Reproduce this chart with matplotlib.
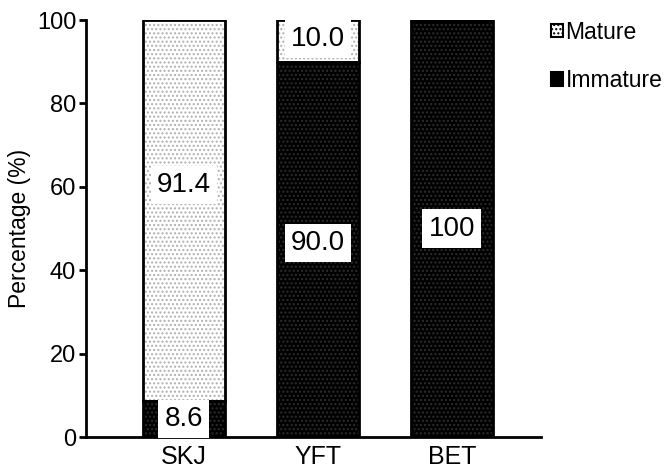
import matplotlib
matplotlib.use('Agg')
import matplotlib.pyplot as plt
import numpy as np
from matplotlib.patches import Patch

plt.rcParams['font.family'] = ['Liberation Sans', 'DejaVu Sans']
plt.rcParams['hatch.linewidth'] = 1.0

# maturity composition per species (%)
species = ['SKJ', 'YFT', 'BET']
immature = [8.6, 90.0, 100.0]
mature = [91.4, 10.0, 0.0]
immature_txt = ['8.6', '90.0', '100']
mature_txt = ['91.4', '10.0', '']

# where the value boxes sit (y, in %)
immature_lab_y = [4.3, 46.5, 50]
mature_lab_y = [60.5, 95.5, None]

fig = plt.figure(figsize=(6.71, 4.70), dpi=100)
ax = fig.add_axes([0.128, 0.0702, 0.678, 0.887])

x = np.arange(len(species))
w = 0.61

# dotted fills: hatch takes the edge colour, outline drawn afterwards
ax.bar(x, immature, w, color='black', edgecolor='#2e2e2e', hatch='....', lw=0)
ax.bar(x, mature, w, bottom=immature, color='white', edgecolor='#b0b0b0',
       hatch='....', lw=0)
ax.bar(x, immature, w, fill=False, edgecolor='black', lw=2)
ax.bar(x, mature, w, bottom=immature, fill=False, edgecolor='black', lw=2)

box = dict(boxstyle='square,pad=0.22', fc='white', ec='none')
for i in range(len(species)):
    if immature[i] > 0:
        ax.text(x[i], immature_lab_y[i], immature_txt[i], ha='center',
                va='center', fontsize=20, bbox=box, zorder=5)
    if mature[i] > 0:
        ax.text(x[i], mature_lab_y[i], mature_txt[i], ha='center',
                va='center', fontsize=20, bbox=box, zorder=5)

ax.set_xlim(-0.731, 2.664)
ax.set_ylim(0, 100)
ax.set_yticks([0, 20, 40, 60, 80, 100])
ax.set_xticks(x)
ax.set_xticklabels(species)
ax.tick_params(axis='x', length=0, labelsize=18, pad=6)
ax.tick_params(axis='y', length=5, width=2, labelsize=17, pad=2)
ax.spines['right'].set_visible(False)
ax.spines['top'].set_visible(False)
ax.spines['left'].set_linewidth(2)
ax.spines['bottom'].set_linewidth(2)
ax.set_ylabel('Percentage (%)', fontsize=16.5, labelpad=4)

handles = [Patch(facecolor='white', edgecolor='black', hatch='....', lw=1.5),
           Patch(facecolor='black', edgecolor='black', hatch='....', lw=1.5)]
fig.legend(handles, ['Mature', 'Immature'], loc='upper left',
           bbox_to_anchor=(0.79, 1.0), frameon=False, fontsize=16.5,
           handlelength=0.55, handleheight=0.55, handletextpad=0.1,
           labelspacing=1.1)

fig.savefig('out.png', dpi=100)
